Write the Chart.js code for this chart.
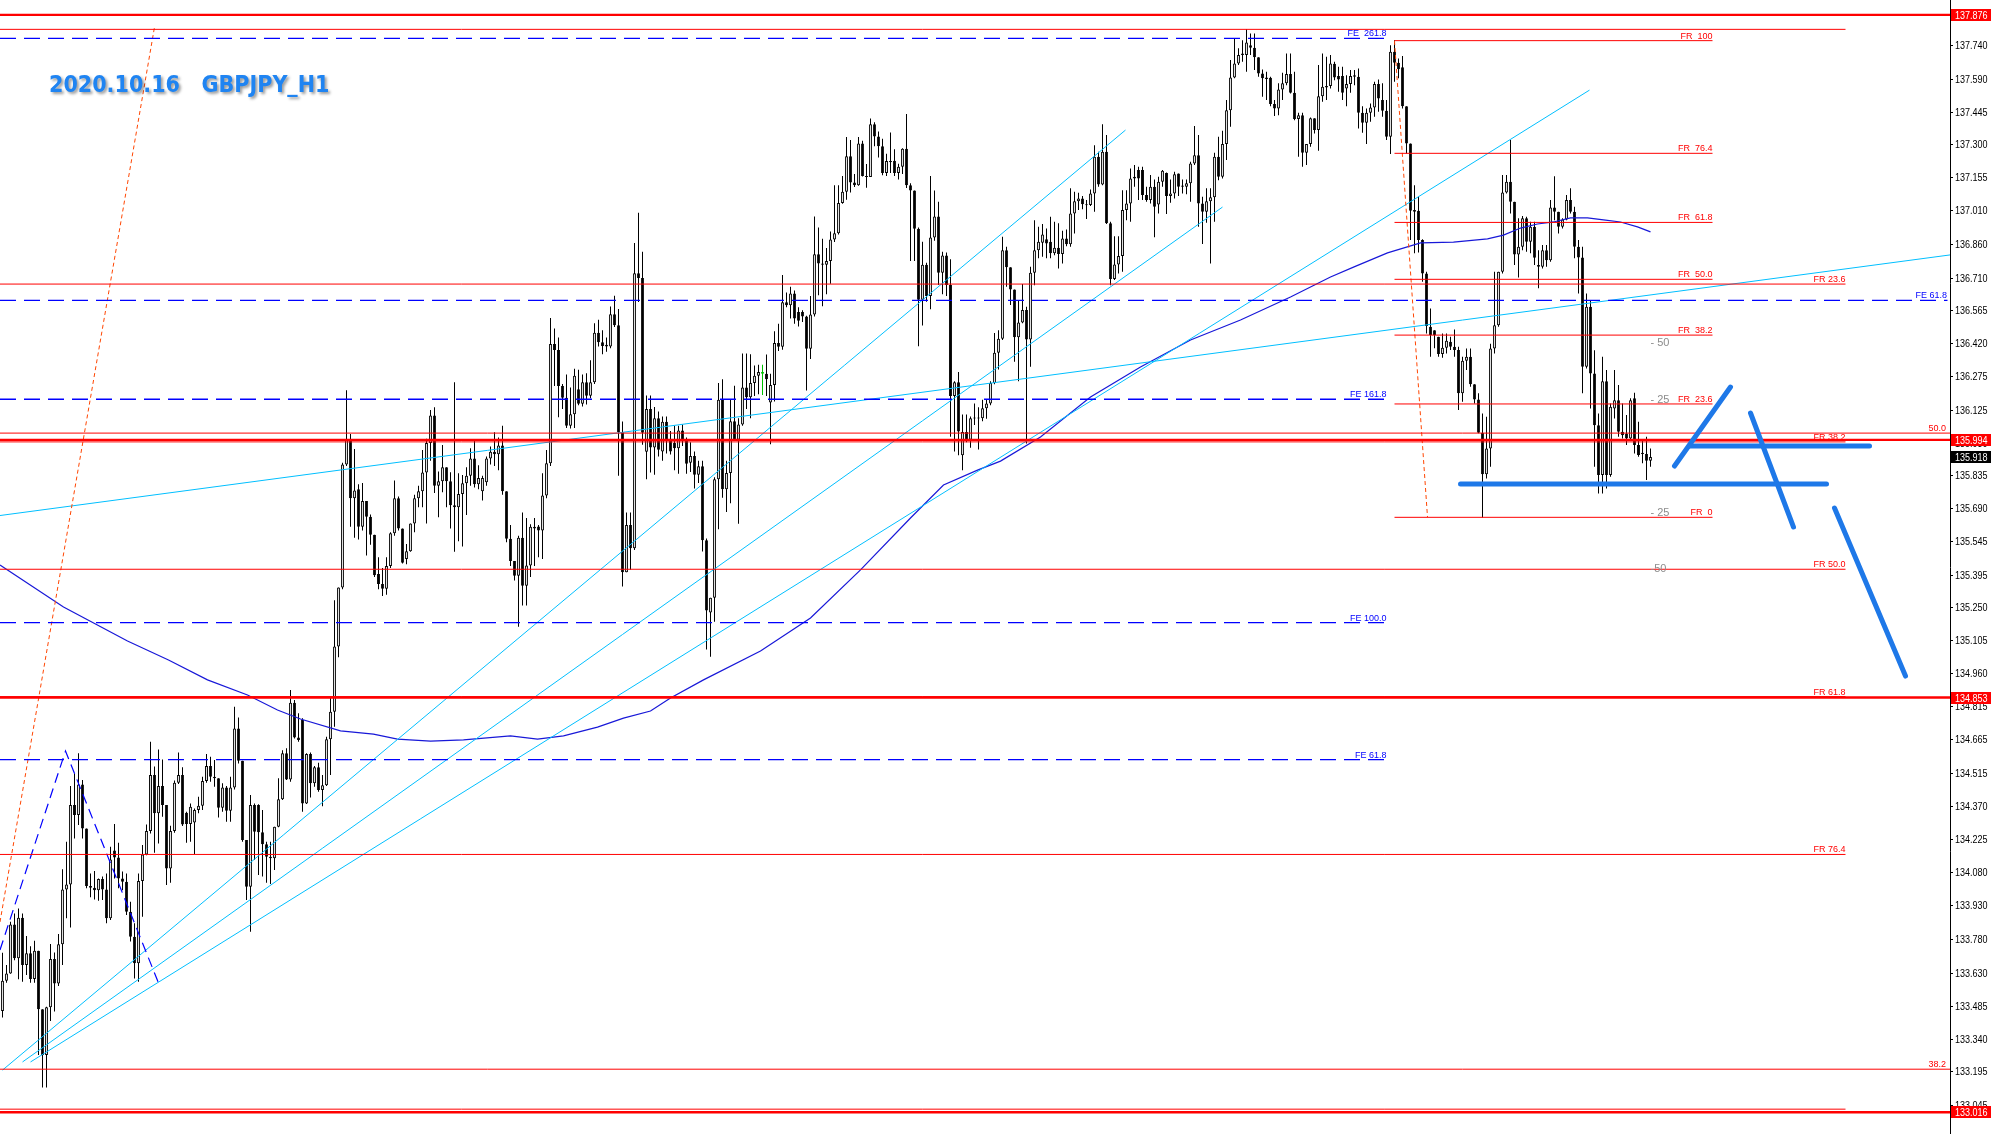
<!DOCTYPE html>
<html><head><meta charset="utf-8">
<script src="https://cdn.jsdelivr.net/npm/chart.js@4.4.1/dist/chart.umd.min.js"></script>
<style>
html,body{margin:0;padding:0;background:#ffffff;overflow:hidden;}
#box{position:relative;width:1991px;height:1134px;}
canvas{display:block;}
</style></head><body>
<div id="box"><canvas id="chart" width="1991" height="1134"></canvas></div>
<script>
// ---- candles (H1, oldest first) ----
const opens = [
133.465,133.599,133.631,133.848,133.698,133.878,133.668,133.72,133.606,133.732,
133.472,133.27,133.481,133.695,133.587,133.76,134.003,134.025,134.377,134.333,
134.468,134.273,134.018,134.011,134.0,134.049,134.003,133.875,134.175,134.145,
134.052,134.037,133.904,133.794,133.676,134.04,134.158,134.262,134.51,134.34,
134.461,134.377,134.096,134.262,134.476,134.51,134.343,134.293,134.299,134.355,
134.374,134.483,134.55,134.502,134.495,134.365,134.454,134.352,134.454,134.716,
134.573,134.222,134.015,134.377,134.377,134.256,134.203,134.148,134.141,134.281,
134.402,134.606,134.49,134.83,134.676,134.753,134.384,134.603,134.473,134.544,
134.443,134.465,134.668,134.79,135.079,135.34,135.885,135.993,135.735,135.775,
135.609,135.723,135.653,135.574,135.4,135.356,135.335,135.435,135.58,135.735,
135.601,135.466,135.501,135.624,135.735,135.767,135.849,135.98,136.102,135.791,
135.811,135.873,135.811,135.704,135.696,135.754,135.802,135.835,135.912,135.798,
135.767,135.806,135.912,135.941,135.93,135.969,135.767,135.556,135.458,135.392,
135.561,135.348,135.438,135.609,135.61,135.593,135.748,135.89,136.419,136.392,
136.233,136.181,136.056,136.107,136.218,136.154,136.249,136.189,136.249,136.468,
136.426,136.415,136.407,136.55,136.502,136.028,135.408,135.617,135.514,136.732,
136.711,135.941,136.131,135.96,136.09,135.942,136.074,135.99,135.98,135.957,
136.036,135.996,135.893,135.923,135.839,135.877,135.549,135.23,135.295,135.82,
136.172,135.775,135.847,136.077,135.995,136.062,136.226,136.183,136.246,136.278,
136.295,136.287,136.159,136.237,136.423,136.406,136.603,136.59,136.642,136.56,
136.56,136.54,136.398,136.549,136.816,136.775,136.77,136.786,136.881,136.909,
137.043,137.093,137.25,137.134,137.122,137.307,137.163,137.158,137.392,137.338,
137.294,137.176,137.229,137.23,137.176,137.204,137.283,137.122,137.098,136.929,
136.614,136.77,136.631,136.89,136.983,136.734,136.811,136.68,136.188,136.249,
135.926,136.029,135.995,136.09,136.092,136.09,136.134,136.155,136.246,136.38,
136.442,136.834,136.758,136.66,136.448,136.514,136.569,136.439,136.734,136.834,
136.867,136.883,136.871,136.82,136.845,136.817,136.886,136.86,136.997,137.051,
137.063,137.037,137.034,137.085,137.248,137.125,137.27,136.953,136.706,136.771,
136.808,137.012,137.041,137.152,137.189,137.189,137.078,137.056,137.115,137.036,
137.137,137.176,137.074,137.085,137.174,137.12,137.115,137.13,137.218,137.255,
137.041,137.004,137.051,137.068,137.248,137.159,137.304,137.454,137.599,137.661,
137.705,137.698,137.742,137.73,137.688,137.617,137.599,137.598,137.481,137.462,
137.546,137.573,137.614,137.531,137.415,137.432,137.265,137.304,137.418,137.366,
137.516,137.555,137.561,137.66,137.605,137.605,137.55,137.57,137.609,137.602,
137.443,137.398,137.443,137.466,137.57,137.499,137.451,137.336,137.713,137.664,
137.644,137.472,137.307,137.012,137.009,136.879,136.731,136.495,136.48,136.451,
136.374,136.402,136.429,136.406,136.392,136.2,136.344,136.362,136.24,136.173,
136.025,135.842,135.956,136.399,136.502,136.738,137.09,137.137,137.048,136.815,
136.849,136.975,136.871,136.938,136.768,136.761,136.834,136.79,137.023,137.004,
136.938,136.97,137.056,137.004,136.849,136.802,136.318,136.583,136.288,136.059,
135.838,136.254,135.838,136.133,136.17,136.03,136.022,136.0,136.178,135.971,
135.937,135.931,135.901];
const highs = [
133.723,133.668,133.86,133.897,133.919,133.897,133.797,133.752,133.776,133.732,
133.472,133.484,133.761,133.724,133.806,134.092,134.214,134.461,134.517,134.606,
134.488,134.273,134.074,134.085,134.052,134.06,134.074,134.192,134.293,134.21,
134.082,134.074,133.949,133.853,134.074,134.2,134.291,134.657,134.547,134.623,
134.579,134.377,134.285,134.485,134.609,134.544,134.347,134.384,134.362,134.414,
134.502,134.603,134.591,134.576,134.495,134.473,134.461,134.502,134.812,134.765,
134.573,134.222,134.421,134.384,134.38,134.355,134.214,134.214,134.281,134.495,
134.62,134.628,134.886,134.842,134.783,134.761,134.606,134.61,134.55,134.564,
134.51,134.679,134.857,135.284,135.34,135.893,136.214,136.02,135.954,135.798,
135.803,135.723,135.664,135.574,135.474,135.427,135.474,135.585,135.814,135.743,
135.601,135.533,135.624,135.751,135.791,135.949,135.999,136.126,136.139,135.854,
135.971,135.873,135.851,136.249,135.846,135.838,135.873,135.957,135.993,135.882,
135.835,135.92,135.965,136.028,136.004,136.056,135.767,135.617,135.458,135.569,
135.672,135.648,135.62,135.648,135.617,135.846,135.949,136.534,136.487,136.447,
136.241,136.284,136.226,136.309,136.305,136.284,136.289,136.347,136.51,136.526,
136.479,136.447,136.585,136.632,136.574,136.075,135.672,135.672,136.866,137.0,
136.827,136.19,136.19,136.14,136.12,136.098,136.098,136.033,136.057,136.057,
136.062,136.005,135.983,135.942,135.901,135.901,135.557,135.295,135.828,136.246,
136.262,135.901,136.175,136.234,136.09,136.377,136.377,136.373,136.323,136.327,
136.327,136.372,136.287,136.475,136.508,136.724,136.647,136.672,136.655,136.581,
136.568,136.544,136.631,136.983,136.934,136.885,136.844,136.917,137.122,137.122,
137.163,137.335,137.322,137.171,137.335,137.319,137.216,137.417,137.401,137.36,
137.327,137.261,137.355,137.281,137.217,137.286,137.437,137.13,137.098,136.934,
136.871,136.778,137.163,137.098,137.048,136.827,136.824,136.794,136.254,136.295,
136.106,136.106,136.098,136.155,136.139,136.172,136.175,136.254,136.467,136.48,
136.893,136.849,136.758,136.66,136.613,136.684,136.583,136.761,136.967,136.938,
136.95,136.93,136.982,136.96,136.953,136.92,136.926,137.108,137.093,137.088,
137.074,137.056,137.103,137.299,137.27,137.392,137.344,136.96,136.896,136.896,
137.1,137.1,137.196,137.211,137.203,137.203,137.115,137.167,137.147,137.159,
137.189,137.178,137.147,137.181,137.174,137.147,137.147,137.226,137.384,137.344,
137.071,137.108,137.108,137.265,137.336,137.363,137.499,137.676,137.772,137.728,
137.764,137.812,137.794,137.794,137.688,137.634,137.624,137.602,137.499,137.573,
137.62,137.705,137.705,137.624,137.443,137.443,137.304,137.422,137.418,137.654,
137.705,137.691,137.698,137.668,137.646,137.646,137.609,137.632,137.632,137.639,
137.472,137.462,137.484,137.58,137.59,137.573,137.499,137.742,137.764,137.683,
137.694,137.472,137.307,137.122,137.071,136.882,136.738,136.576,136.48,136.451,
136.465,136.465,136.451,136.483,136.406,136.362,136.399,136.399,136.24,136.2,
136.111,136.096,136.42,136.738,136.738,137.167,137.167,137.322,137.048,136.975,
136.985,136.982,136.96,136.96,136.834,136.857,136.857,137.056,137.162,137.004,
136.975,137.078,137.108,137.026,136.879,136.849,136.642,136.613,136.391,136.111,
136.362,136.303,136.155,136.303,136.237,136.155,136.104,136.178,136.203,136.074,
135.993,136.008,135.956];
const lows = [
133.436,133.59,133.63,133.69,133.605,133.594,133.624,133.59,133.59,133.27,
133.126,133.126,133.42,133.462,133.575,133.668,133.875,133.835,134.229,134.288,
134.229,134.008,133.968,133.959,133.953,133.956,133.853,133.868,134.052,134.008,
134.0,133.89,133.772,133.609,133.594,133.882,134.155,134.251,134.166,134.207,
134.325,134.023,134.033,134.254,134.47,134.284,134.21,134.214,134.16,134.34,
134.355,134.476,134.48,134.458,134.322,134.347,134.303,134.303,134.446,134.561,
134.214,133.956,133.816,134.133,134.067,134.06,134.033,134.027,134.089,134.278,
134.399,134.488,134.48,134.672,134.657,134.347,134.381,134.41,134.458,134.436,
134.372,134.461,134.51,134.723,135.031,135.332,135.878,135.609,135.561,135.553,
135.593,135.482,135.53,135.387,135.332,135.303,135.308,135.427,135.569,135.593,
135.446,135.443,135.498,135.585,135.696,135.696,135.624,135.901,135.759,135.651,
135.762,135.696,135.601,135.498,135.545,135.522,135.661,135.791,135.783,135.775,
135.725,135.791,135.885,135.878,135.859,135.751,135.541,135.435,135.371,135.166,
135.261,135.261,135.387,135.435,135.474,135.466,135.735,135.878,136.233,136.094,
136.131,136.047,136.044,136.047,136.147,136.142,136.151,136.178,136.241,136.407,
136.373,136.384,136.4,136.494,135.835,135.345,135.408,135.419,135.506,136.605,
135.972,135.82,135.85,135.84,135.92,135.901,135.934,135.929,135.86,135.844,
135.967,135.844,135.852,135.779,135.803,135.5,135.066,135.033,135.189,135.598,
135.738,135.675,135.713,135.992,135.623,136.057,136.131,136.09,136.188,136.196,
136.193,136.188,135.975,136.164,136.388,136.393,136.581,136.532,136.508,136.496,
136.516,136.213,136.352,136.54,136.634,136.586,136.639,136.685,136.87,136.904,
137.04,137.057,137.089,137.114,137.119,137.16,137.11,137.158,137.294,137.245,
137.166,137.163,137.176,137.163,137.147,137.171,137.109,136.786,136.786,136.409,
136.5,136.606,136.573,136.876,136.68,136.639,136.631,136.008,135.942,135.926,
135.86,135.983,135.959,136.06,135.951,136.077,136.087,136.147,136.24,136.306,
136.436,136.672,136.591,136.34,136.254,136.51,135.978,136.318,136.679,136.798,
136.805,136.798,136.798,136.812,136.753,136.775,136.852,136.849,136.908,137.012,
137.015,136.972,137.03,137.004,137.115,137.122,136.95,136.679,136.702,136.731,
136.738,136.967,136.96,137.115,137.056,137.056,137.048,137.041,136.891,136.997,
137.115,136.994,137.044,137.063,137.074,137.085,137.082,137.048,137.211,136.938,
136.861,136.955,136.775,136.96,137.144,137.152,137.233,137.381,137.595,137.654,
137.668,137.624,137.698,137.632,137.602,137.513,137.499,137.472,137.428,137.432,
137.499,137.565,137.528,137.41,137.248,137.203,137.211,137.292,137.351,137.274,
137.491,137.499,137.55,137.587,137.536,137.499,137.472,137.531,137.565,137.373,
137.354,137.304,137.403,137.425,137.447,137.425,137.322,137.26,137.58,137.595,
137.462,137.262,136.879,136.82,136.824,136.694,136.465,136.362,136.40,136.362,
136.358,136.377,136.392,136.362,136.126,136.163,136.303,136.229,136.155,136.023,
135.65,135.823,135.875,136.377,136.495,136.731,137.085,136.997,136.768,136.713,
136.834,136.827,136.82,136.768,136.665,136.753,136.761,136.783,136.967,136.908,
136.93,136.967,136.997,136.798,136.642,136.2,136.31,136.133,135.875,135.757,
135.757,135.779,135.831,136.089,136.008,136.0,135.971,135.993,135.934,135.919,
135.89,135.816,135.875];
const closes = [
133.599,133.631,133.848,133.698,133.878,133.668,133.72,133.606,133.732,133.472,
133.27,133.481,133.695,133.587,133.76,134.003,134.025,134.377,134.333,134.468,
134.273,134.018,134.011,134.0,134.049,134.003,133.875,134.136,134.145,134.052,
134.037,133.904,133.794,133.676,134.04,134.158,134.262,134.51,134.34,134.461,
134.377,134.096,134.262,134.476,134.51,134.291,134.293,134.369,134.355,134.374,
134.483,134.55,134.502,134.495,134.365,134.454,134.352,134.454,134.716,134.573,
134.222,134.015,134.377,134.259,134.256,134.203,134.148,134.141,134.281,134.402,
134.606,134.49,134.83,134.676,134.665,134.384,134.603,134.473,134.544,134.443,
134.465,134.668,134.79,135.079,135.34,135.885,135.993,135.735,135.77,135.609,
135.723,135.653,135.574,135.395,135.356,135.335,135.435,135.58,135.735,135.601,
135.45,135.501,135.624,135.735,135.767,135.849,135.98,136.102,135.791,135.811,
135.873,135.811,135.704,135.696,135.754,135.802,135.835,135.912,135.798,135.825,
135.825,135.912,135.941,135.93,135.969,135.767,135.556,135.458,135.392,135.561,
135.348,135.438,135.609,135.601,135.593,135.748,135.89,136.419,136.392,136.233,
136.181,136.056,136.107,136.278,136.154,136.249,136.189,136.249,136.468,136.426,
136.41,136.407,136.55,136.502,136.028,135.408,135.617,135.514,136.732,136.711,
136.025,136.131,135.96,136.09,135.95,136.074,135.99,135.942,135.957,136.036,
135.996,135.888,135.923,135.839,135.877,135.549,135.238,135.295,135.82,136.172,
135.775,135.847,136.077,135.995,136.062,136.226,136.183,136.246,136.278,136.295,
136.287,136.262,136.237,136.423,136.406,136.603,136.59,136.642,136.532,136.521,
136.54,136.398,136.549,136.816,136.775,136.77,136.786,136.881,136.909,137.043,
137.093,137.25,137.134,137.122,137.307,137.163,137.158,137.392,137.338,137.294,
137.176,137.229,137.224,137.176,137.204,137.283,137.122,137.098,136.929,136.614,
136.77,136.631,136.89,136.983,136.734,136.811,136.68,136.188,136.249,136.031,
136.029,135.995,136.09,136.092,136.09,136.134,136.155,136.246,136.38,136.442,
136.834,136.758,136.66,136.448,136.514,136.569,136.439,136.734,136.834,136.871,
136.904,136.864,136.82,136.845,136.817,136.886,136.86,136.997,137.051,137.063,
137.037,137.034,137.085,137.248,137.125,137.27,136.953,136.706,136.771,136.808,
137.012,137.041,137.152,137.159,137.152,137.078,137.056,137.115,137.026,137.137,
137.186,137.074,137.085,137.17,137.115,137.115,137.13,137.218,137.255,137.041,
137.004,137.051,137.068,137.248,137.159,137.304,137.454,137.599,137.661,137.698,
137.698,137.754,137.73,137.688,137.617,137.595,137.592,137.481,137.462,137.546,
137.573,137.614,137.531,137.415,137.432,137.265,137.304,137.418,137.366,137.516,
137.558,137.561,137.661,137.599,137.59,137.531,137.57,137.605,137.602,137.443,
137.398,137.443,137.466,137.57,137.506,137.451,137.336,137.713,137.664,137.635,
137.472,137.307,137.009,137.004,136.879,136.731,136.498,136.458,136.458,136.374,
136.402,136.433,136.406,136.392,136.2,136.344,136.362,136.24,136.173,136.025,
135.842,135.956,136.399,136.502,136.738,137.09,137.137,137.048,136.815,136.849,
136.975,136.871,136.938,136.8,136.761,136.834,136.79,137.023,137.004,136.938,
136.97,137.056,137.004,136.849,136.802,136.318,136.583,136.288,136.059,135.838,
136.254,135.838,136.141,136.17,136.03,136.015,136.0,136.17,135.971,135.927,
135.931,135.901,135.918];
const highlightBar = 190;

// ---- price axis ----
const yTicks = [137.740,137.590,137.445,137.300,137.155,137.010,136.860,136.710,136.565,136.420,136.275,
  136.125,135.980,135.835,135.690,135.545,135.395,135.250,135.105,134.960,134.815,134.665,
  134.515,134.370,134.225,134.080,133.930,133.780,133.630,133.485,133.340,133.195,133.045];
const yMin = 132.920, yMax = 137.942;
const xMin = -0.625, xMax = 486.875;
const priceBoxes = [[137.876,'#FF0000'],[135.994,'#FF0000'],[134.853,'#FF0000'],[133.016,'#FF0000'],[135.918,'#000000']];

// ---- horizontal levels ----
const thickRedLevels = [137.876, 135.994, 134.853, 133.016];
const thinRedFullLevels = [136.024, 133.207];
const thinRedFullNames = ['50.0', '38.2'];
const bigFibLevels = [137.812, 136.684, 135.985, 135.421, 134.857, 134.158, 133.030];
const bigFibNames = ['', 'FR 23.6', 'FR 38.2', 'FR 50.0', 'FR 61.8', 'FR 76.4', ''];
const bigFibEnd = 460.75;
const smallFibLevels = [137.762, 137.263, 136.957, 136.705, 136.458, 136.153, 135.651];
const smallFibNames = ['FR  100', 'FR  76.4', 'FR  61.8', 'FR  50.0', 'FR  38.2', 'FR  23.6', 'FR  0'];
const smallFibSpan = [348, 427.5];
const feLevels = [137.772, 136.174, 135.185, 134.578];
const feNames = ['FE  261.8', 'FE 161.8', 'FE 100.0', 'FE 61.8'];
const feEnd = 346;
const feLongLevel = 136.612, feLongName = 'FE 61.8', feLongEnd = 486.25;
const grayMarkLevels = [136.423, 136.171, 135.670, 135.422];
const grayMarkNames = ['- 50', '- 25', '- 25', '-50'];
const grayMarkX = 412;

// ---- drawn objects: [bar index, price] ----
const cyanLines = [
  [[-0.625, 135.659], [486.875, 136.813]],
  [[0, 133.203], [280.75, 137.366]],
  [[5, 133.239], [305, 137.025]],
  [[7, 133.239], [396.75, 137.543]]
];
const orangeLines = [
  [[-0.625, 133.859], [38, 137.822]],
  [[348, 137.76], [356.25, 135.652]]
];
const blueZigzag = [[-0.625, 133.735], [15.75, 134.616], [39, 133.589]];
const maLine = [[-0.625,135.440],[15.25,135.254],[31.25,135.103],[41.5,135.019],[51.25,134.931],[61.25,134.864],
  [68.75,134.798],[74.5,134.758],[84.5,134.705],[92.75,134.691],[98.75,134.669],[107,134.660],[115.25,134.665],
  [127,134.683],[133.75,134.669],[140.25,134.683],[148.75,134.722],[155.25,134.762],[162,134.793],[167,134.851],
  [175.25,134.931],[189.5,135.059],[202,135.205],[214.5,135.418],[227,135.648],[235.25,135.794],[243.75,135.860],
  [249.5,135.900],[259.5,136.007],[272,136.184],[284.5,136.317],[297,136.436],[309.5,136.525],[322,136.627],
  [332,136.715],[337.75,136.759],[346.25,136.822],[354.5,136.866],[362.75,136.870],[371.25,136.884],[375.25,136.901],
  [379.5,136.932],[383.75,136.950],[387.75,136.959],[392,136.977],[396.25,136.977],[400.25,136.968],[404.5,136.959],
  [408.75,136.937],[412,136.915]];
const sketchStrokes = [
  [[364.5, 135.799], [456, 135.799]],
  [[421.75, 135.967], [466.75, 135.967]],
  [[418, 135.878], [432, 136.228]],
  [[437, 136.113], [447.75, 135.608]],
  [[458, 135.692], [475.75, 134.948]]
];
const titleText = '2020.10.16   GBPJPY_H1';

// ---- build datasets ----
const N = closes.length;
const wickData = [], bodyData = [], bodyFill = [], bodyLine = [], wickCol = [];
for (let i = 0; i < N; i++) {
  wickData.push({x: i, y: [lows[i], highs[i]]});
  let a = opens[i], b = closes[i];
  if (Math.abs(a - b) < 0.004) { const m = (a + b) / 2; a = m - 0.002; b = m + 0.002; }
  bodyData.push({x: i, y: [a, b]});
  const up = closes[i] >= opens[i];
  const hl = i === highlightBar;
  bodyFill.push(hl ? '#00FF00' : (up ? '#FFFFFF' : '#000000'));
  bodyLine.push(hl ? '#00C000' : '#000000');
  wickCol.push(hl ? '#00C000' : '#000000');
}
function seg(points, color, width, dash, order, extra) {
  return Object.assign({
    type: 'line', data: points.map(p => ({x: p[0], y: p[1]})),
    borderColor: color, borderWidth: width, borderDash: dash || [],
    pointRadius: 0, pointHoverRadius: 0, fill: false, tension: 0, order: order
  }, extra || {});
}
const datasets = [];
datasets.push({type: 'bar', data: wickData, backgroundColor: wickCol, borderWidth: 0, grouped: false,
  maxBarThickness: 1, inflateAmount: 0, order: 60});
datasets.push({type: 'bar', data: bodyData, backgroundColor: bodyFill, borderColor: bodyLine, borderWidth: 1,
  borderSkipped: false, grouped: false, maxBarThickness: 3, inflateAmount: 0, order: 59});
datasets.push(seg(maLine, '#1818D8', 1.2, null, 50));
cyanLines.forEach(l => datasets.push(seg(l, '#00BFFF', 1, null, 45)));
orangeLines.forEach(l => datasets.push(seg(l, '#FF4500', 1, [4, 3], 44)));
datasets.push(seg(blueZigzag, '#0000FF', 1.2, [10, 6], 43));
bigFibLevels.forEach(v => datasets.push(seg([[xMin, v], [bigFibEnd, v]], '#FF0000', 1, null, 40)));
thinRedFullLevels.forEach(v => datasets.push(seg([[xMin, v], [xMax, v]], '#FF0000', 1, null, 40)));
smallFibLevels.forEach(v => datasets.push(seg([[smallFibSpan[0], v], [smallFibSpan[1], v]], '#FF0000', 1, null, 39)));
feLevels.forEach(v => datasets.push(seg([[xMin, v], [feEnd, v]], '#0000FF', 1.3, [16, 8], 38)));
datasets.push(seg([[xMin, feLongLevel], [feLongEnd, feLongLevel]], '#0000FF', 1.3, [16, 8], 38));
thickRedLevels.forEach(v => datasets.push(seg([[xMin, v], [xMax, v]], '#FF0000', 2.4, null, 30)));
sketchStrokes.forEach(l => datasets.push(seg(l, '#1E78E8', 5, null, 5, {borderCapStyle: 'round'})));

const axisFont = '11px "Liberation Sans", Arial, sans-serif';
const axisSqueeze = 0.82;
function squeezedText(ctx, text, x, y, sx) {
  ctx.save(); ctx.translate(x, y); ctx.scale(sx, 1); ctx.fillText(text, 0, 0); ctx.restore();
}

const labelPlugin = {
  id: 'mtlabels',
  afterDatasetsDraw(chart) {
    const {ctx} = chart; const xs = chart.scales.x, ys = chart.scales.y;
    ctx.save();
    ctx.textBaseline = 'alphabetic';
    ctx.textAlign = 'right';
    ctx.font = '9px "Liberation Sans", Arial, sans-serif';
    ctx.fillStyle = '#FF0000';
    smallFibLevels.forEach((v, k) => ctx.fillText(smallFibNames[k], xs.getPixelForValue(smallFibSpan[1]), ys.getPixelForValue(v) - 2));
    bigFibLevels.forEach((v, k) => { if (bigFibNames[k]) ctx.fillText(bigFibNames[k], xs.getPixelForValue(bigFibEnd), ys.getPixelForValue(v) - 2); });
    thinRedFullLevels.forEach((v, k) => ctx.fillText(thinRedFullNames[k], xs.getPixelForValue(xMax) - 4, ys.getPixelForValue(v) - 2));
    ctx.fillStyle = '#0000FF';
    feLevels.forEach((v, k) => ctx.fillText(feNames[k], xs.getPixelForValue(feEnd), ys.getPixelForValue(v) - 2));
    ctx.fillText(feLongName, xs.getPixelForValue(xMax) - 3, ys.getPixelForValue(feLongLevel) - 2);
    ctx.textAlign = 'left';
    ctx.textBaseline = 'middle';
    ctx.font = '11px "Liberation Sans", Arial, sans-serif';
    ctx.fillStyle = '#8C8C8C';
    grayMarkLevels.forEach((v, k) => ctx.fillText(grayMarkNames[k], xs.getPixelForValue(grayMarkX), ys.getPixelForValue(v)));
    ctx.restore();
  },
  afterDraw(chart) {
    const {ctx, chartArea} = chart; const ys = chart.scales.y;
    ctx.save();
    ctx.font = axisFont;
    ctx.textAlign = 'left'; ctx.textBaseline = 'middle';
    // tick labels of the price scale
    ctx.fillStyle = '#000000';
    ys.ticks.forEach(t => squeezedText(ctx, t.value.toFixed(3), chartArea.right + 5, ys.getPixelForValue(t.value) + 0.5, axisSqueeze));
    // price boxes
    priceBoxes.forEach(([v, c]) => {
      const py = Math.round(ys.getPixelForValue(v));
      ctx.fillStyle = c;
      ctx.fillRect(chartArea.right + 1, py - 6, 40, 12);
      ctx.fillStyle = '#FFFFFF';
      squeezedText(ctx, v.toFixed(3), chartArea.right + 5, py + 0.5, axisSqueeze);
    });
    ctx.restore();
    // title
    ctx.save();
    ctx.font = 'bold 23px "DejaVu Sans", Verdana, sans-serif';
    ctx.textAlign = 'left'; ctx.textBaseline = 'alphabetic';
    ctx.shadowColor = 'rgba(0,0,0,0.40)'; ctx.shadowBlur = 3; ctx.shadowOffsetX = 2; ctx.shadowOffsetY = 2;
    ctx.translate(49, 92);
    ctx.scale(0.9, 1);
    ctx.fillStyle = '#1F84F2';
    ctx.fillText(titleText, 0, 0);
    ctx.restore();
  }
};

new Chart(document.getElementById('chart'), {
  type: 'bar',
  data: {datasets},
  options: {
    responsive: false, animation: false, devicePixelRatio: 1, events: [],
    layout: {padding: 0},
    plugins: {legend: {display: false}, tooltip: {enabled: false}, title: {display: false}},
    scales: {
      x: {type: 'linear', display: false, min: xMin, max: xMax, offset: false},
      y: {
        type: 'linear', position: 'right', min: yMin, max: yMax,
        afterBuildTicks: s => { s.ticks = yTicks.map(v => ({value: v})); },
        afterFit: s => { s.width = 41; s.paddingTop = 0; s.paddingBottom = 0; },
        ticks: {display: false, autoSkip: false},
        grid: {drawOnChartArea: false, drawTicks: true, tickLength: 3, color: '#000000'},
        border: {display: true, color: '#000000', width: 1}
      }
    }
  },
  plugins: [labelPlugin]
});
</script>
</body></html>
